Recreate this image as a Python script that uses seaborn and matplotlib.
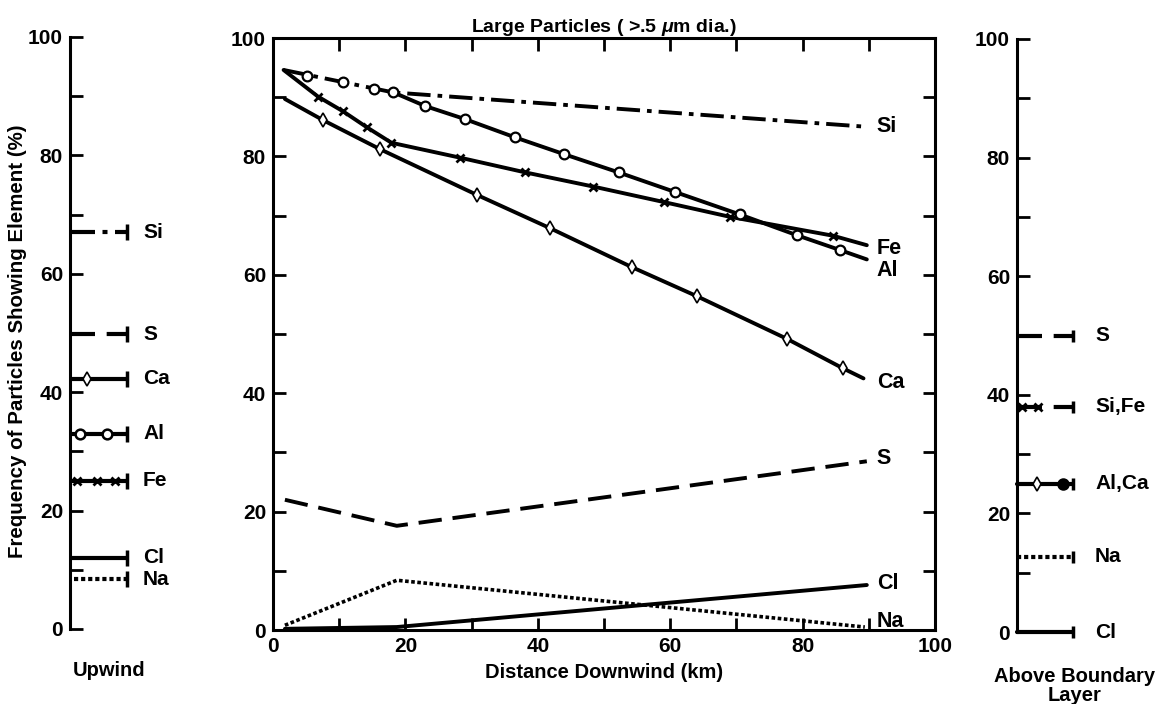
import matplotlib
matplotlib.use("Agg")
import pandas as pd
import matplotlib.pyplot as plt
import seaborn as sns

# ---- middle panel: large particles vs distance downwind ----
si_x = [1.6, 18.2, 89.7]
si_y = [94.6, 90.8, 85.0]
al_x = [1.6, 5.1, 10.6, 15.2, 18.2, 23.0, 29.0, 36.6, 43.9, 52.2, 60.7, 70.5, 79.1, 85.6, 89.7]
al_y = [94.6, 93.6, 92.5, 91.4, 90.8, 88.5, 86.3, 83.2, 80.4, 77.3, 74.0, 70.2, 66.7, 64.2, 62.6]
fe_x = [1.6, 6.8, 10.6, 14.2, 17.9, 28.2, 38.1, 48.4, 59.0, 69.0, 84.6, 89.7]
fe_y = [94.6, 90.1, 87.6, 84.9, 82.3, 79.8, 77.3, 74.9, 72.3, 69.8, 66.6, 65.0]
ca_x = [1.8, 7.6, 16.2, 30.8, 41.8, 54.2, 64.0, 77.6, 86.1, 89.2]
ca_y = [89.7, 86.1, 81.2, 73.5, 67.9, 61.3, 56.4, 49.2, 44.2, 42.5]
s_x = [1.8, 18.7, 89.7]
s_y = [22.0, 17.6, 28.5]
na_x = [1.8, 18.7, 89.4]
na_y = [0.8, 8.4, 0.5]
cl_x = [1.8, 18.7, 89.7]
cl_y = [0.2, 0.5, 7.6]

# ---- side panels ----
upwind_elements = ["Si", "S", "Ca", "Al", "Fe", "Cl", "Na"]
upwind_values = [67.0, 49.8, 42.3, 33.0, 25.0, 12.0, 8.4]
above_labels = ["S", "Si,Fe", "Al,Ca", "Na", "Cl"]
above_values = [50.0, 38.0, 25.0, 12.7, 0.0]

LW = 2.8
DASHDOT = (0, (6.0, 1.8, 1.2, 1.8))
DASHED = (0, (6.0, 2.8))
DOTTED = (0, (1.0, 0.7))
FONT = "Liberation Sans"

sns.set_style("ticks")
plt.rcParams["font.family"] = [FONT, "DejaVu Sans"]
plt.rcParams["font.weight"] = "bold"
plt.rcParams["axes.labelweight"] = "bold"
plt.rcParams["axes.titleweight"] = "bold"
plt.rcParams["mathtext.fontset"] = "custom"
plt.rcParams["mathtext.it"] = FONT + ":italic:bold"
plt.rcParams["mathtext.rm"] = FONT + ":bold"
for key in ("text.color", "axes.edgecolor", "axes.labelcolor", "xtick.color", "ytick.color"):
    plt.rcParams[key] = "black"

fig = plt.figure(figsize=(11.61, 7.04), dpi=100)
W, H = 1161, 704


def px_axes(x0, x1, y0, y1):
    return fig.add_axes([x0 / W, (H - y0) / H, (x1 - x0) / W, (y0 - y1) / H])


def line(ax, x, y, ls="-", lw=LW, **kw):
    df = pd.DataFrame({"x": x, "y": y})
    sns.lineplot(data=df, x="x", y="y", ax=ax, color="black", linestyle=ls, lw=lw,
                 sort=False, estimator=None, **kw)


def marks(ax, x, y, marker, ms, mew, fc="white"):
    df = pd.DataFrame({"x": x, "y": y})
    sns.lineplot(data=df, x="x", y="y", ax=ax, color="black", linestyle="none",
                 marker=marker, markersize=ms, markeredgewidth=mew,
                 markeredgecolor="black", markerfacecolor=fc,
                 sort=False, estimator=None, zorder=5, clip_on=False)


# ----------------- main axes -----------------
ax = px_axes(273, 935, 630, 38)
line(ax, si_x, si_y, DASHDOT)
line(ax, al_x[4:], al_y[4:])
line(ax, fe_x, fe_y)
line(ax, ca_x, ca_y)
line(ax, s_x, s_y, DASHED)
line(ax, na_x, na_y, DOTTED, lw=2.6)
line(ax, cl_x, cl_y)
marks(ax, al_x[1:-1], al_y[1:-1], "o", 7, 1.6)
marks(ax, fe_x[1:-1], fe_y[1:-1], "x", 6, 2.0)
marks(ax, ca_x[1:-1], ca_y[1:-1], "d", 7, 1.2)

end_labels = [("Si", si_y[-1]), ("Fe", fe_y[-1] - 0.5), ("Al", al_y[-1] - 1.8),
              ("Ca", ca_y[-1] - 0.7), ("S", s_y[-1] + 0.4), ("Cl", cl_y[-1] + 0.3),
              ("Na", na_y[-1] + 0.9)]
for name, yv in end_labels:
    ax.text(91.2, yv, name, fontsize=15.5, va="center", ha="left")

ax.set_xlim(0, 100)
ax.set_ylim(0, 100)
ax.set_xticks(range(0, 101, 20))
ax.set_xticks(range(10, 100, 20), minor=True)
ax.set_yticks(range(0, 101, 20))
ax.set_yticks(range(10, 100, 20), minor=True)
ax.tick_params(which="both", direction="in", top=True, right=True,
               length=9, width=2, labelsize=15, pad=5)
for sp in ax.spines.values():
    sp.set_linewidth(2.2)
ax.set_xlabel("Distance Downwind (km)", fontsize=14.5, labelpad=5)
ax.set_ylabel("")
ax.set_title(r"Large Particles ( >.5 $\mu$m dia.)", fontsize=14, pad=3)


def side_axes(ax):
    ax.set_ylim(0, 100)
    ax.set_yticks(range(0, 101, 20))
    ax.set_yticks(range(10, 100, 20), minor=True)
    ax.set_xticks([])
    ax.tick_params(which="both", direction="in", length=9, width=2,
                   labelsize=15, pad=5)
    for k in ("top", "right", "bottom"):
        ax.spines[k].set_visible(False)
    ax.spines["left"].set_linewidth(2.2)
    ax.set_xlabel("")
    ax.set_ylabel("")


# ----------------- upwind axes -----------------
axl = px_axes(70, 230, 629, 37)
axl.set_xlim(0, 160)
up_styles = {"Si": DASHDOT, "S": DASHED, "Ca": "-", "Al": "-", "Fe": "-", "Cl": "-", "Na": DOTTED}
for name, val in zip(upwind_elements, upwind_values):
    x0 = 4 if name == "Na" else 0
    line(axl, [x0, 57], [val, val], up_styles[name], lw=3)
    marks(axl, [57], [val], "|", 11, 2.5)
    axl.text(73, val, name, fontsize=15, va="center", ha="left")
    if name == "Ca":
        marks(axl, [17], [val], "d", 7, 1.2)
    if name == "Al":
        marks(axl, [10, 37], [val, val], "o", 7, 1.8)
    if name == "Fe":
        marks(axl, [7, 27, 45], [val] * 3, "x", 6, 2.0)
side_axes(axl)

# ----------------- above boundary layer axes -----------------
axr = px_axes(1017, 1161, 632, 39)
axr.set_xlim(0, 144)
ab_styles = {"S": DASHED, "Si,Fe": DASHED, "Al,Ca": "-", "Na": DOTTED, "Cl": "-"}
for name, val in zip(above_labels, above_values):
    line(axr, [0, 56], [val, val], ab_styles[name], lw=3, clip_on=False)
    marks(axr, [56], [val], "|", 9, 2.5)
    axr.text(78, val, name, fontsize=15, va="center", ha="left")
    if name == "Si,Fe":
        marks(axr, [5, 21], [val, val], "x", 6, 2.0)
    if name == "Al,Ca":
        marks(axr, [20], [val], "d", 7, 1.2)
        marks(axr, [46], [val], "o", 7, 2.0, fc="black")
side_axes(axr)

fig.text(18 / W, (H - 341) / H, "Frequency of Particles Showing Element (%)",
         rotation=90, ha="center", va="center", fontsize=14.8)
fig.text(109 / W, (H - 671) / H, "Upwind", ha="center", va="center", fontsize=14.5)
fig.text(1075 / W, (H - 686) / H, "Above Boundary\nLayer", ha="center", va="center",
         fontsize=14.5, linespacing=1.0)

fig.savefig("out.png", dpi=100)
